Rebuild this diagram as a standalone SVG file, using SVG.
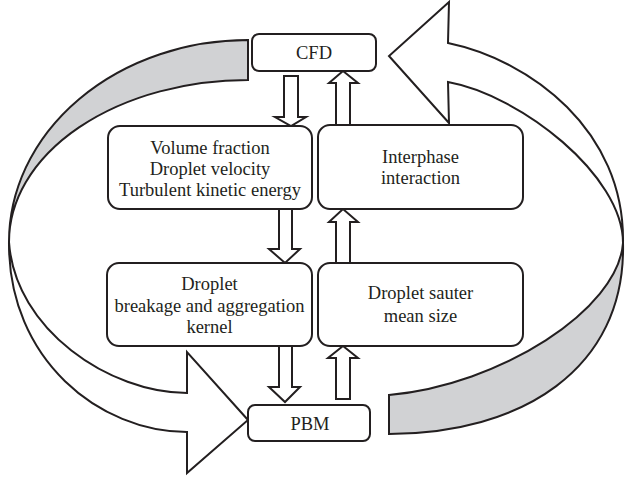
<svg xmlns="http://www.w3.org/2000/svg" width="626" height="479" viewBox="0 0 626 479">
<style>
.box{fill:#fff;stroke:#231f20;stroke-width:2}
.lbl{font-family:"Liberation Serif","Times New Roman",serif;font-size:18.5px;fill:#231f20;text-anchor:middle}
.blk{fill:#fff;stroke:#231f20;stroke-width:2;stroke-linejoin:miter}
.rib{stroke:#231f20;stroke-width:2;stroke-linejoin:miter}
.gray{fill:#d1d2d4}
.white{fill:#fff}
</style>
<rect width="626" height="479" fill="#fff"/>
<g id="connectors">
  <!-- left curved arrow: CFD to PBM -->
  <path class="rib gray" d="M248,40 A239,202 0 0 0 9,242 A239,162 0 0 1 248,80 Z"/>
  <path class="rib white" d="M9,242 C15,330 110,393 187,393 L187,352 L248,420 L187,473 L187,432 C100,432 8,360 9,242 Z"/>
  <!-- right curved arrow: PBM to CFD -->
  <path class="rib gray" d="M623,243 C618,310 500,385 389,395 L389,434 C520,434 626,370 623,243 Z"/>
  <path class="rib white" d="M623,243 C623,175 520,95 448,82 L449,123 L389,56 L449,2 L448,43 C530,60 625,130 623,243 Z"/>
  <!-- block arrows down (left column) -->
  <path class="blk" d="M284,76 L298,76 L298,117 L306,117 L291,126 L275,117 L284,117 Z"/>
  <path class="blk" d="M279,209 L292,209 L292,249 L300,249 L285,263 L269,249 L279,249 Z"/>
  <path class="blk" d="M279,346 L292,346 L292,387 L300,387 L285,402 L269,387 L279,387 Z"/>
  <!-- block arrows up (right column) -->
  <path class="blk" d="M336,125 L350,125 L350,83 L358,83 L343,71 L329,83 L336,83 Z"/>
  <path class="blk" d="M336,263 L350,263 L350,222 L358,222 L343,209 L329,222 L336,222 Z"/>
  <path class="blk" d="M336,399 L350,399 L350,358 L358,358 L343,346 L328,358 L336,358 Z"/>
</g>
<g id="cfd">
  <rect class="box" x="252" y="34" width="124" height="37" rx="7"/>
  <text class="lbl" x="314" y="59">CFD</text>
</g>
<g id="volume">
  <rect class="box" x="108" y="126" width="204" height="83" rx="12"/>
  <text class="lbl" x="210" y="154">Volume fraction</text>
  <text class="lbl" x="210" y="175">Droplet velocity</text>
  <text class="lbl" x="210" y="196">Turbulent kinetic energy</text>
</g>
<g id="interphase">
  <rect class="box" x="318" y="125" width="205" height="84" rx="12"/>
  <text class="lbl" x="420.5" y="163">Interphase</text>
  <text class="lbl" x="420.5" y="184">interaction</text>
</g>
<g id="kernel">
  <rect class="box" x="107" y="263" width="205" height="83" rx="12"/>
  <text class="lbl" x="209.5" y="290">Droplet</text>
  <text class="lbl" x="209.5" y="312">breakage and aggregation</text>
  <text class="lbl" x="209.5" y="333">kernel</text>
</g>
<g id="sauter">
  <rect class="box" x="318" y="263" width="205" height="83" rx="12"/>
  <text class="lbl" x="420.5" y="299">Droplet sauter</text>
  <text class="lbl" x="420.5" y="322">mean size</text>
</g>
<g id="pbm">
  <rect class="box" x="248" y="405" width="122" height="36" rx="7"/>
  <text class="lbl" x="310" y="430">PBM</text>
</g>
</svg>
